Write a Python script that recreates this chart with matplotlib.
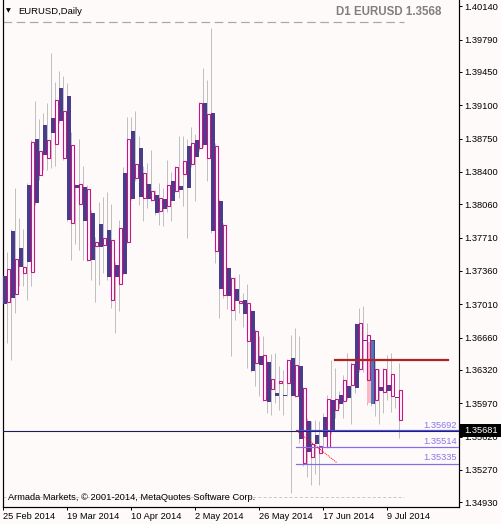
import matplotlib
matplotlib.use("Agg")
import matplotlib.pyplot as plt
from matplotlib.patches import Rectangle

# EURUSD daily candles, 25 Feb 2014 .. 14 Jul 2014
opens = [1.3731, 1.3703, 1.3778, 1.3712, 1.3760, 1.3734, 1.3826, 1.3735, 1.3875, 1.3837,
         1.3889, 1.3855, 1.3897, 1.3869, 1.3928, 1.3855, 1.3920, 1.3786, 1.3826, 1.3806,
         1.3824, 1.3747, 1.3797, 1.3762, 1.3785, 1.3763, 1.3779, 1.3706, 1.3742, 1.3722,
         1.3839, 1.3766, 1.3883, 1.3834, 1.3865, 1.3813, 1.3827, 1.3811, 1.3816, 1.3799,
         1.3812, 1.3804, 1.3831, 1.3820, 1.3825, 1.3838, 1.3867, 1.3848, 1.3874, 1.3865,
         1.3912, 1.3855, 1.3902, 1.3757, 1.3810, 1.3711, 1.3739, 1.3695, 1.3717, 1.3702,
         1.3706, 1.3662, 1.3694, 1.3639, 1.3647, 1.3600, 1.3640, 1.3612, 1.3608, 1.3618,
         1.3606, 1.3618, 1.3645, 1.3605, 1.3636, 1.3534, 1.3578, 1.3541, 1.3564, 1.3545,
         1.3583, 1.3551, 1.3601, 1.3590, 1.3606, 1.3599, 1.3615, 1.3616, 1.3680, 1.3633,
         1.3664, 1.3621, 1.3663, 1.3600, 1.3614, 1.3609, 1.3616, 1.3605, 1.3604, 1.3580]
highs = [1.3766, 1.3756, 1.3780, 1.3823, 1.3792, 1.3780, 1.3828, 1.3874, 1.3914, 1.3896,
         1.3902, 1.3912, 1.3965, 1.3935, 1.3946, 1.3941, 1.3933, 1.3882, 1.3827, 1.3875,
         1.3846, 1.3826, 1.3800, 1.3772, 1.3808, 1.3814, 1.3819, 1.3806, 1.3745, 1.3790,
         1.3845, 1.3898, 1.3898, 1.3904, 1.3878, 1.3846, 1.3849, 1.3863, 1.3821, 1.3828,
         1.3823, 1.3853, 1.3840, 1.3846, 1.3878, 1.3878, 1.3875, 1.3887, 1.3880, 1.3913,
         1.3949, 1.3937, 1.3991, 1.3870, 1.3812, 1.3786, 1.3740, 1.3730, 1.3730, 1.3733,
         1.3713, 1.3722, 1.3695, 1.3675, 1.3668, 1.3668, 1.3641, 1.3649, 1.3650, 1.3636,
         1.3632, 1.3644, 1.3669, 1.3676, 1.3668, 1.3614, 1.3582, 1.3578, 1.3579, 1.3578,
         1.3587, 1.3606, 1.3643, 1.3634, 1.3610, 1.3627, 1.3650, 1.3640, 1.3681, 1.3697,
         1.3699, 1.3681, 1.3664, 1.3643, 1.3633, 1.3634, 1.3648, 1.3650, 1.3604, 1.3639]
lows = [1.3699, 1.3660, 1.3642, 1.3692, 1.3720, 1.3720, 1.3706, 1.3720, 1.3805, 1.3832,
        1.3842, 1.3842, 1.3844, 1.3846, 1.3891, 1.3853, 1.3788, 1.3747, 1.3764, 1.3758,
        1.3747, 1.3746, 1.3727, 1.3703, 1.3721, 1.3734, 1.3727, 1.3697, 1.3671, 1.3694,
        1.3732, 1.3765, 1.3811, 1.3831, 1.3805, 1.3788, 1.3802, 1.3809, 1.3795, 1.3784,
        1.3783, 1.3798, 1.3789, 1.3819, 1.3813, 1.3804, 1.3771, 1.3845, 1.3810, 1.3862,
        1.3866, 1.3831, 1.3776, 1.3744, 1.3687, 1.3708, 1.3696, 1.3647, 1.3684, 1.3692,
        1.3677, 1.3634, 1.3630, 1.3615, 1.3605, 1.3599, 1.3587, 1.3585, 1.3597, 1.3590,
        1.3585, 1.3605, 1.3503, 1.3604, 1.3555, 1.3531, 1.3520, 1.3511, 1.3523, 1.3511,
        1.3552, 1.3550, 1.3565, 1.3582, 1.3592, 1.3582, 1.3601, 1.3575, 1.3608, 1.3630,
        1.3630, 1.3595, 1.3594, 1.3584, 1.3575, 1.3587, 1.3601, 1.3588, 1.3592, 1.3561]
closes = [1.3701, 1.3738, 1.3708, 1.3749, 1.3740, 1.3740, 1.3745, 1.3871, 1.3807, 1.3862,
          1.3858, 1.3874, 1.3881, 1.3916, 1.3893, 1.3904, 1.3790, 1.3868, 1.3823, 1.3827,
          1.3789, 1.3822, 1.3748, 1.3766, 1.3761, 1.3771, 1.3730, 1.3769, 1.3730, 1.3781,
          1.3733, 1.3875, 1.3812, 1.3848, 1.3814, 1.3839, 1.3812, 1.3820, 1.3797, 1.3813,
          1.3801, 1.3826, 1.3810, 1.3845, 1.3821, 1.3851, 1.3823, 1.3870, 1.3856, 1.3912,
          1.3868, 1.3901, 1.3778, 1.3867, 1.3717, 1.3784, 1.3710, 1.3729, 1.3704, 1.3704,
          1.3691, 1.3702, 1.3631, 1.3673, 1.3637, 1.3648, 1.3598, 1.3623, 1.3605, 1.3620,
          1.3605, 1.3643, 1.3605, 1.3637, 1.3559, 1.3613, 1.3546, 1.3554, 1.3554, 1.3552,
          1.3562, 1.3602, 1.3568, 1.3602, 1.3596, 1.3622, 1.3603, 1.3638, 1.3613, 1.3681,
          1.3662, 1.3669, 1.3596, 1.3633, 1.3610, 1.3633, 1.3610, 1.3628, 1.3603, 1.3611]

date_idx = [0, 16, 32, 48, 64, 80, 96]
date_labels = ["25 Feb 2014", "19 Mar 2014", "10 Apr 2014", "2 May 2014",
               "26 May 2014", "17 Jun 2014", "9 Jul 2014"]
price_ticks = [1.40140, 1.39790, 1.39450, 1.39100, 1.38750, 1.38400, 1.38060, 1.37710,
               1.37360, 1.37010, 1.36660, 1.36320, 1.35970, 1.35620, 1.35270, 1.34930]

# objects drawn on the chart
highlight_idx = [91, 92]
highlight_lo = [1.35974, 1.35964]
highlight_hi = [1.36615, 1.36626]
levels = [1.35692, 1.35514, 1.35335]
level_start = 73.2
bid = 1.35681
resist = 1.3642
resist_x = [83.1, 111.3]
trend_x = [73.4, 83.4]
trend_y = [1.35684, 1.35348]
top_dash = 1.3998
bottom_dash = 1.3499

BG = "#fffafa"
PURPLE = "#483d8b"
MAGENTA = "#c71585"
WICK = "#c0c0c0"
FONT = ["Liberation Sans", "DejaVu Sans"]
plt.rcParams["font.family"] = FONT

W, H = 501, 524
fig = plt.figure(figsize=(W / 100, H / 100), dpi=100, facecolor=BG)
ax = fig.add_axes([2.5 / W, 17 / H, 456 / W, 507 / H])
ax.set_facecolor(BG)
x0, x1 = -0.125, 113.875
ax.set_xlim(x0, x1)
ax.set_ylim(1.34881, 1.40206)

PX = 0.72  # one pixel in points

for i in range(len(opens)):
    o, h, l, c = opens[i], highs[i], lows[i], closes[i]
    ax.vlines(i + 0.08, l, h, color=WICK, lw=PX, zorder=1)
    lo, hi = min(o, c), max(o, c)
    if c > o:
        ax.add_patch(Rectangle((i + 0.05, lo), 0.75, max(hi - lo, 0.00005),
                               fc="none", ec=MAGENTA, lw=PX * 1.1, zorder=3))
    else:
        ax.add_patch(Rectangle((i - 0.075, lo), 0.98, max(hi - lo, 0.0001),
                               fc=PURPLE, ec="none", zorder=3))

ax.add_patch(Rectangle((highlight_idx[0] - 0.05, highlight_lo[0]), 0.95,
                       highlight_hi[0] - highlight_lo[0], fc="#ffb6c1", ec="none", zorder=2))
ax.add_patch(Rectangle((highlight_idx[1] - 0.0, highlight_lo[1]), 0.85,
                       highlight_hi[1] - highlight_lo[1], fc="#4a78b8", ec="none", zorder=3.5))

ax.plot([x0, 100.25], [top_dash, top_dash], color="#a8a8a8", lw=PX * 1.2,
        dashes=(7.2, 3.8), zorder=1)
ax.plot([x0, 100.25], [bottom_dash, bottom_dash], color="#c8c8c8", lw=PX,
        dashes=(3, 2.2), zorder=1)
ax.axhline(bid, color="#1c1c5c", lw=PX * 1.1, zorder=4)
level_cols = ["#5050e0", "#7f6fee", "#7f6fee"]
for lv, col in zip(levels, level_cols):
    ax.plot([level_start, x1], [lv, lv], color=col, lw=PX * 1.2, zorder=4)
ax.plot(trend_x, trend_y, color="red", lw=PX, ls=(0, (1, 1)), zorder=5)
ax.plot(resist_x, [resist, resist], color="#b22222", lw=PX * 2.2, zorder=5)

# axes styling
for s in ["top"]:
    ax.spines[s].set_visible(False)
for s in ["left", "right", "bottom"]:
    ax.spines[s].set_color("black")
    ax.spines[s].set_linewidth(PX * 1.2)
ax.yaxis.tick_right()
ax.set_yticks(price_ticks, [f"{p:.5f}" for p in price_ticks])
ax.set_xticks(date_idx, date_labels)
for lab in ax.get_xticklabels():
    lab.set_horizontalalignment("left")
ax.tick_params(axis="y", length=2.2, width=PX, pad=1.8, labelsize=6.7, colors="black")
ax.tick_params(axis="x", length=2.2, width=PX, pad=1.5, labelsize=6.7, colors="black")


def fx(px):
    return px / W


def fy(py):
    return 1 - py / H


fig.text(fx(6), fy(11), "\u25bc", fontsize=4.5, va="center", ha="left",
         family=["DejaVu Sans"])
fig.text(fx(18), fy(11), "EURUSD,Daily", fontsize=6.8, va="center", ha="left")
fig.text(fx(441), fy(12), "D1 EURUSD 1.3568", fontsize=8.3, fontweight="bold",
         color="#7f7f7f", va="center", ha="right")
fig.text(fx(8), fy(498), "Armada Markets, \u00a9 2001-2014, MetaQuotes Software Corp.",
         fontsize=6.7, va="center", ha="left")
for lv, py in zip(levels, [425, 441.7, 458]):
    fig.text(fx(457), fy(py), f"{lv:.5f}", fontsize=6.7, color="#8878e8",
             va="center", ha="right")

fig.add_artist(Rectangle((fx(459), fy(437)), 42 / W, 13 / H, transform=fig.transFigure,
                         fc="black", ec="none", zorder=10))
fig.text(fx(464), fy(430.7), f"{bid:.5f}", fontsize=6.7, color="white",
         va="center", ha="left", zorder=11)

fig.savefig("out.png", dpi=100, facecolor=BG)
